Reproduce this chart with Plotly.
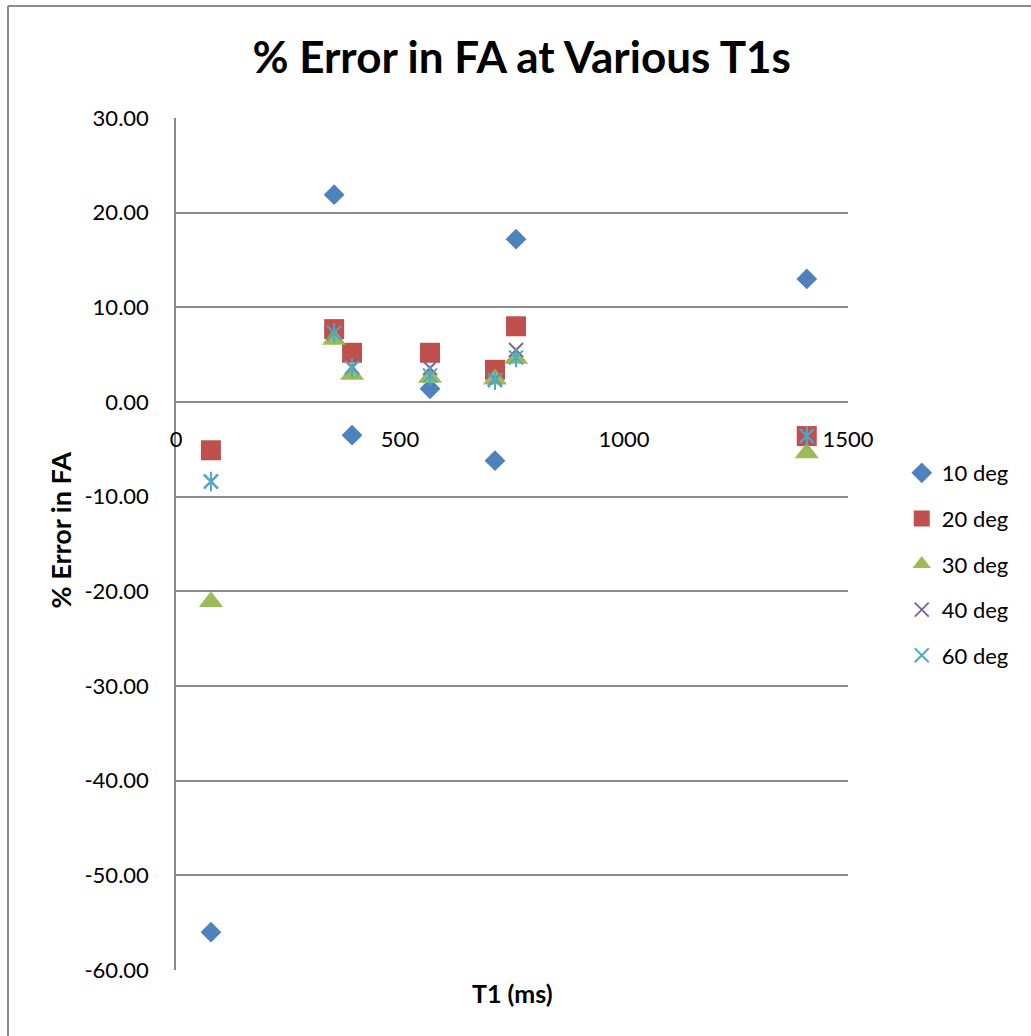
import plotly.graph_objects as go

# T1 values (ms) and percent error in flip angle for each nominal FA
t1_ms = [78, 353, 393, 567, 712, 759, 1408]
err_10deg = [-56.0, 21.9, -3.5, 1.4, -6.2, 17.2, 13.0]
err_20deg = [-5.1, 7.7, 5.2, 5.2, 3.4, 8.0, -3.6]
err_30deg = [-21.1, 6.6, 2.9, 2.6, 2.4, 4.6, -5.4]
err_40deg = [-8.4, 7.3, 3.7, 3.6, 2.4, 5.5, -3.6]
err_60deg = [-8.4, 7.3, 3.6, 2.8, 2.3, 4.7, -3.6]

x_ticks = [0, 500, 1000, 1500]
y_ticks = [30, 20, 10, 0, -10, -20, -30, -40, -50, -60]

FONT = "Lato"
GRID = "#8a8a8a"

fig = go.Figure()

series = [
    ("10 deg", err_10deg, "diamond", "#4F81BD", 16),
    ("20 deg", err_20deg, "square", "#C0504D", 20),
    ("30 deg", err_30deg, "triangle-up", "#9BBB59", 21),
]
for name, vals, sym, col, size in series:
    fig.add_trace(go.Scatter(
        x=t1_ms, y=vals, mode="markers", name=name, legendgroup=name,
        marker=dict(symbol=sym, color=col, size=size, line=dict(width=0)),
    ))

fig.add_trace(go.Scatter(
    x=t1_ms, y=err_40deg, mode="markers", name="40 deg", legendgroup="40 deg",
    marker=dict(symbol="x-thin-open", color="#8064A2", size=14,
                line=dict(width=2, color="#8064A2")),
))
# 60 deg star: a diagonal cross plus a vertical stroke
fig.add_trace(go.Scatter(
    x=t1_ms, y=err_60deg, mode="markers", name="60 deg", legendgroup="60 deg",
    marker=dict(symbol="x-thin-open", color="#4BACC6", size=14,
                line=dict(width=2, color="#4BACC6")),
))
fig.add_trace(go.Scatter(
    x=t1_ms, y=err_60deg, mode="markers", name="60 deg", legendgroup="60 deg",
    showlegend=False,
    marker=dict(symbol="line-ns-open", color="#4BACC6", size=14,
                line=dict(width=2, color="#4BACC6")),
))

fig.update_layout(
    width=1031, height=1036,
    margin=dict(l=176, r=183, t=118, b=66),
    paper_bgcolor="white", plot_bgcolor="white",
    font=dict(family=FONT, size=22, color="black"),
    title=dict(text="<b>% Error in FA at Various T1s</b>",
               font=dict(family=FONT, size=44, color="black"),
               x=0.506, xanchor="center", y=0.944, yanchor="middle"),
    showlegend=True,
    legend=dict(x=1.08, xanchor="left", y=0.4765, yanchor="middle",
                traceorder="grouped", tracegroupgap=14,
                font=dict(family=FONT, size=22, color="black"),
                itemwidth=30, bgcolor="rgba(0,0,0,0)"),
    xaxis=dict(range=[0, 1500], tickvals=x_ticks, ticktext=[str(v) for v in x_ticks],
               showgrid=False, zeroline=False,
               showline=True, linecolor=GRID, linewidth=1.5,
               anchor="free", position=60 / 90, side="bottom",
               ticks="", ticklabelstandoff=18,
               tickfont=dict(family=FONT, size=22, color="black")),
    yaxis=dict(range=[-60, 30], tickvals=y_ticks,
               ticktext=[f"{v:.2f}" for v in y_ticks],
               showgrid=True, gridcolor=GRID, gridwidth=1.5,
               zeroline=False, showline=True, linecolor=GRID, linewidth=1.5,
               ticks="", ticklabelstandoff=21,
               tickfont=dict(family=FONT, size=22, color="black")),
    annotations=[
        dict(text="<b>% Error in FA</b>", xref="paper", yref="paper",
             x=-0.1726, y=0.516, xanchor="center", yanchor="middle",
             textangle=-90, showarrow=False,
             font=dict(family=FONT, size=27, color="black")),
        dict(text="<b>T1 (ms)</b>", xref="paper", yref="paper",
             x=0.5, y=-0.027, xanchor="center", yanchor="middle",
             showarrow=False, font=dict(family=FONT, size=25, color="black")),
    ],
    shapes=[
        # chart frame
        dict(type="line", xref="paper", yref="paper",
             x0=(8 - 176) / 672, x1=2.0, y0=1 + (118 - 6) / 852, y1=1 + (118 - 6) / 852,
             line=dict(color=GRID, width=2)),
        dict(type="line", xref="paper", yref="paper",
             x0=(8 - 176) / 672, x1=(8 - 176) / 672, y0=1 + (118 - 6) / 852, y1=-0.2,
             line=dict(color=GRID, width=2)),
    ],
)

fig.write_html("out.html")
